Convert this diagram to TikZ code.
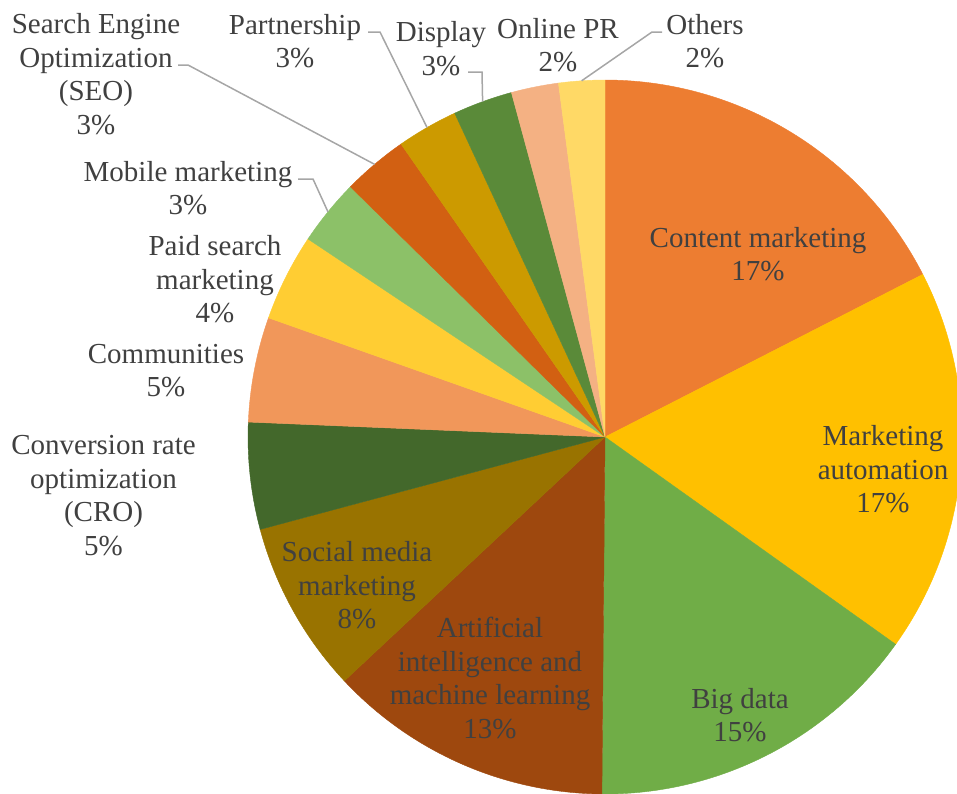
\documentclass[tikz,border=0pt]{standalone}
\usepackage{fontspec}
\setmainfont{Liberation Serif}
\definecolor{txt}{HTML}{404040}
\definecolor{ldr}{HTML}{A6A6A6}
\definecolor{cCont}{HTML}{ED7D31}
\definecolor{cAuto}{HTML}{FFC000}
\definecolor{cBig}{HTML}{70AD47}
\definecolor{cAI}{HTML}{9E480E}
\definecolor{cSoc}{HTML}{997300}
\definecolor{cCRO}{HTML}{43682B}
\definecolor{cComm}{HTML}{F1975A}
\definecolor{cPaid}{HTML}{FFCD33}
\definecolor{cMob}{HTML}{8CC168}
\definecolor{cSEO}{HTML}{D26012}
\definecolor{cPart}{HTML}{CC9A00}
\definecolor{cDisp}{HTML}{5A8A39}
\definecolor{cOPR}{HTML}{F4B183}
\definecolor{cOth}{HTML}{FFD966}
\begin{document}
\begin{tikzpicture}[x=1pt,y=1pt,
  lbl/.style={text=txt, align=center, inner sep=0pt, font=\fontsize{29}{33.5}\selectfont},
  leader/.style={draw=ldr, line width=1.5pt},
  wedge/.style={fill=#1, draw=#1, line width=0.4pt}]
\useasboundingbox (0,0) rectangle (957,-793);
\coordinate (C) at (605,-437);
\def\R{357pt}
% slices, clockwise from 12 o'clock
\foreach \a/\b/\c in {90/27.1/cCont, 27.1/-35.5/cAuto, -35.5/-90.5/cBig,
  -90.5/-136.9/cAI, -136.9/-165/cSoc, -165/-182.4/cCRO, -182.4/-199.5/cComm,
  -199.5/-213.7/cPaid, -213.7/-224.5/cMob, -224.5/-235.15/cSEO,
  -235.15/-245.1/cPart, -245.1/-254.8/cDisp, -254.8/-262.5/cOPR, -262.5/-270/cOth}
  \path[wedge=\c] (C) -- ([shift={(C)}]\a:\R) arc[start angle=\a, end angle=\b, radius=\R] -- cycle;
% labels
\node[lbl] (seo)  at (96,-74)      {Search Engine\\Optimization\\(SEO)\\3\%};
\node[lbl] (part) at (295,-41)     {Partnership\\3\%};
\node[lbl] (disp) at (441,-48.5)   {Display\\3\%};
\node[lbl] (opr)  at (558,-45)     {Online PR\\2\%};
\node[lbl] (oth)  at (705,-41)     {Others\\2\%};
\node[lbl] (mob)  at (188,-188)    {Mobile marketing\\3\%};
\node[lbl] (paid) at (215,-279.5)  {Paid search\\marketing\\4\%};
\node[lbl] (comm) at (166,-370.5)  {Communities\\5\%};
\node[lbl] (cro)  at (103.5,-495.5){Conversion rate\\optimization\\(CRO)\\5\%};
\node[lbl] (soc)  at (357,-585.5)  {Social media\\marketing\\8\%};
\node[lbl] (ai)   at (490,-678)    {Artificial\\intelligence and\\machine learning\\13\%};
\node[lbl] (big)  at (740,-715)    {Big data\\15\%};
\node[lbl] (auto) at (883,-469.5)  {Marketing\\automation\\17\%};
\node[lbl] (cont) at (758,-254)    {Content marketing\\17\%};
% leader lines
\coordinate (seoA) at (178,-65);  \coordinate (seoB) at (188,-65);
\coordinate (seoR) at ([shift={(C)}]130.2:\R);
\coordinate (mobA) at (298,-179); \coordinate (mobB) at (313,-179);
\coordinate (mobR) at ([shift={(C)}]140.9:\R);
\coordinate (partA) at (368,-32); \coordinate (partB) at (380,-32);
\coordinate (partR) at ([shift={(C)}]119.9:\R);
\coordinate (dispA) at (468,-72); \coordinate (dispB) at (482,-72);
\coordinate (dispR) at ([shift={(C)}]110.05:\R);
\coordinate (othA) at (662,-32);  \coordinate (othB) at (652,-32);
\coordinate (othR) at ([shift={(C)}]93.75:\R);
\draw[leader] (seoA) -- (seoB) -- (seoR);
\draw[leader] (mobA) -- (mobB) -- (mobR);
\draw[leader] (partA) -- (partB) -- (partR);
\draw[leader] (dispA) -- (dispB) -- (dispR);
\draw[leader] (othA) -- (othB) -- (othR);
\end{tikzpicture}
\end{document}
